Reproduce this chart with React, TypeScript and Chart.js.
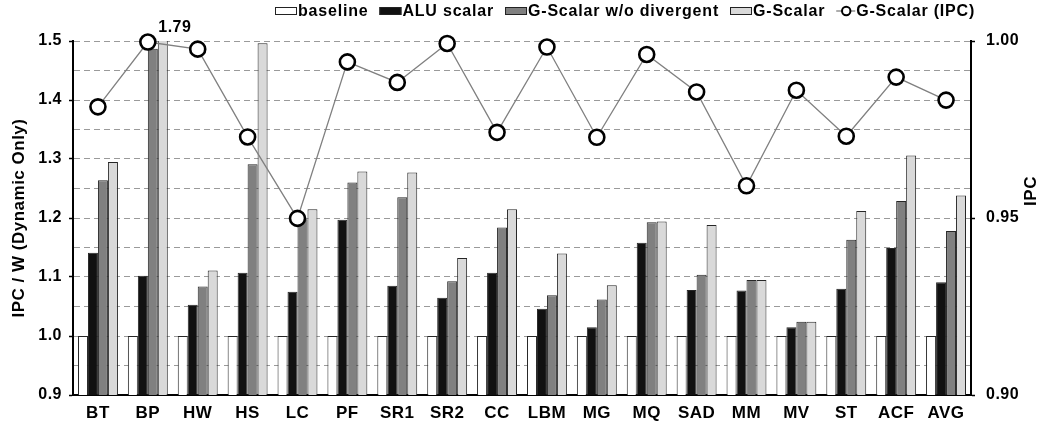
import React, { useEffect, useRef } from "react";
import { Chart, registerables } from "chart.js";

Chart.register(...registerables);

const categories = ["BT", "BP", "HW", "HS", "LC", "PF", "SR1", "SR2", "CC", "LBM", "MG", "MQ", "SAD", "MM", "MV", "ST", "ACF", "AVG"];
const baseline = [1, 1, 1, 1, 1, 1, 1, 1, 1, 1, 1, 1, 1, 1, 1, 1, 1, 1];
const aluScalar = [1.141, 1.102, 1.053, 1.107, 1.075, 1.197, 1.085, 1.065, 1.107, 1.046, 1.015, 1.158, 1.078, 1.077, 1.015, 1.080, 1.149, 1.091];
const gScalarNoDiv = [1.264, 1.487, 1.084, 1.291, 1.198, 1.260, 1.235, 1.093, 1.184, 1.069, 1.062, 1.193, 1.104, 1.095, 1.024, 1.163, 1.229, 1.178];
const gScalar = [1.295, 1.79, 1.111, 1.496, 1.215, 1.279, 1.277, 1.132, 1.215, 1.140, 1.086, 1.194, 1.188, 1.095, 1.024, 1.212, 1.306, 1.238];
const gScalarIPC = [0.9814, 0.9997, 0.9977, 0.9729, 0.9499, 0.9941, 0.9883, 0.9993, 0.9742, 0.9983, 0.9728, 0.9962, 0.9856, 0.9591, 0.9861, 0.9731, 0.9898, 0.9833];

const leftTitle = "IPC / W (Dynamic Only)";
const rightTitle = "IPC";

const FONT = "'Liberation Sans', Arial, sans-serif";
const SPACING = "0.5px";
const LEGEND_SPACING = "0.8px";

const spacingPlugin = {
  id: "spacing",
  beforeUpdate(chart: any) {
    chart.ctx.letterSpacing = SPACING;
  },
  beforeLayout(chart: any) {
    chart.ctx.letterSpacing = SPACING;
  },
  beforeDraw(chart: any) {
    chart.ctx.letterSpacing = SPACING;
  },
};

const extrasPlugin = {
  id: "extras",
  afterDraw(chart: any) {
    const ctx = chart.ctx;
    const area = chart.chartArea;
    ctx.save();
    ctx.letterSpacing = SPACING;
    ctx.fillStyle = "#000";
    ctx.font = `bold 17px ${FONT}`;
    ctx.textBaseline = "middle";

    // right axis title, reading bottom to top
    const y2 = chart.scales.y2;
    ctx.save();
    ctx.translate(y2.right - 11, (area.top + area.bottom) / 2 - 27);
    ctx.rotate(-Math.PI / 2);
    ctx.textAlign = "center";
    ctx.fillText(rightTitle, 0, 0);
    ctx.restore();

    // value label for clipped bars
    ctx.font = `bold 16px ${FONT}`;
    const yScale = chart.scales.y;
    chart.data.datasets.forEach((ds: any, di: number) => {
      if (ds.type === "line") return;
      const meta = chart.getDatasetMeta(di);
      ds.data.forEach((v: number, i: number) => {
        if (v > yScale.max) {
          const el = meta.data[i];
          ctx.textAlign = "center";
          ctx.fillText(v.toFixed(2), el.x + 12, area.top - 13);
        }
      });
    });

    // legend
    ctx.letterSpacing = LEGEND_SPACING;
    ctx.font = `bold 16px ${FONT}`;
    let x = 275;
    const cy = 11;
    chart.data.datasets
      .slice()
      .sort((a: any, b: any) => a.legendIndex - b.legendIndex)
      .forEach((ds: any) => {
        if (ds.type === "line") {
          ctx.strokeStyle = ds.borderColor;
          ctx.lineWidth = 1.3;
          ctx.beginPath();
          ctx.moveTo(x, cy);
          ctx.lineTo(x + 19, cy);
          ctx.stroke();
          ctx.beginPath();
          ctx.arc(x + 10, cy, 4.2, 0, Math.PI * 2);
          ctx.fillStyle = ds.pointBackgroundColor;
          ctx.fill();
          ctx.lineWidth = 2;
          ctx.strokeStyle = ds.pointBorderColor;
          ctx.stroke();
          x += 20;
        } else {
          ctx.fillStyle = ds.backgroundColor;
          ctx.fillRect(x, cy - 4, 22, 8);
          ctx.strokeStyle = "#222";
          ctx.lineWidth = 1;
          ctx.strokeRect(x + 0.5, cy - 3.5, 21, 7);
          x += 23;
        }
        ctx.fillStyle = "#000";
        ctx.textAlign = "left";
        ctx.fillText(ds.label, x, cy + 0.5);
        x += ctx.measureText(ds.label).width + 11;
      });
    ctx.restore();
  },
};

export default function App() {
  const ref = useRef<HTMLCanvasElement | null>(null);

  useEffect(() => {
    if (!ref.current) return;
    const barCommon = {
      type: "bar" as const,
      yAxisID: "y",
      borderColor: "#262626",
      borderWidth: 1,
      categoryPercentage: 0.8,
      barPercentage: 1,
      order: 1,
    };
    const chart = new Chart(ref.current, {
      type: "bar",
      data: {
        labels: categories,
        datasets: [
          {
            type: "line",
            label: "G-Scalar (IPC)",
            data: gScalarIPC,
            yAxisID: "y2",
            borderColor: "#808080",
            borderWidth: 1.3,
            pointRadius: 7.5,
            pointBorderWidth: 2.6,
            pointBackgroundColor: "#ffffff",
            pointBorderColor: "#000000",
            clip: false,
            order: 0,
            legendIndex: 4,
          } as any,
          { ...barCommon, label: "baseline", data: baseline, backgroundColor: "#ffffff", legendIndex: 0 } as any,
          { ...barCommon, label: "ALU scalar", data: aluScalar, backgroundColor: "#111111", legendIndex: 1 } as any,
          { ...barCommon, label: "G-Scalar w/o divergent", data: gScalarNoDiv, backgroundColor: "#808080", legendIndex: 2 } as any,
          { ...barCommon, label: "G-Scalar", data: gScalar, backgroundColor: "#d9d9d9", legendIndex: 3 } as any,
        ],
      },
      options: {
        animation: false,
        responsive: false,
        devicePixelRatio: 1,
        layout: { padding: { top: 41, left: 0, right: 0, bottom: 0 } },
        plugins: {
          legend: { display: false },
          tooltip: { enabled: false },
        },
        scales: {
          x: {
            type: "category",
            grid: { display: false, drawTicks: false },
            border: { display: true, color: "#000", width: 2 },
            ticks: {
              color: "#000",
              font: { family: FONT, size: 17, weight: "bold" },
              padding: 8,
            },
            afterFit: (s: any) => {
              s.height = 32;
            },
          },
          y: {
            position: "left",
            min: 0.9,
            max: 1.5,
            ticks: {
              stepSize: 0.05,
              color: "#000",
              font: { family: FONT, size: 16, weight: "bold" },
              padding: 7,
              callback: (v: any, i: number) => (i % 2 === 0 ? Number(v).toFixed(1) : ""),
            },
            grid: {
              color: "#9a9a9a",
              lineWidth: 1,
              tickLength: 4,
              tickWidth: 1.5,
              tickColor: (c: any) => (c.index % 2 === 0 ? "#000" : "rgba(0,0,0,0)"),
              tickBorderDash: [],
            },
            border: { display: true, color: "#000", width: 2, dash: [6, 4] },
            title: {
              display: true,
              text: leftTitle,
              color: "#000",
              font: { family: FONT, size: 17, weight: "bold" },
              padding: { top: 9, bottom: 0 },
            },
            afterFit: (s: any) => {
              s.width = 73;
            },
          },
          y2: {
            position: "right",
            min: 0.9,
            max: 1.0,
            ticks: {
              stepSize: 0.05,
              color: "#000",
              font: { family: FONT, size: 16, weight: "bold" },
              padding: 11,
              callback: (v: any) => Number(v).toFixed(2),
            },
            grid: {
              drawOnChartArea: false,
              tickLength: 4,
              tickWidth: 1.5,
              tickColor: "#000",
            },
            border: { display: true, color: "#000", width: 2 },
            afterFit: (s: any) => {
              s.width = 71;
            },
          },
        },
      } as any,
      plugins: [spacingPlugin, extrasPlugin],
    });
    return () => chart.destroy();
  }, []);

  return (
    <div style={{ position: "fixed", left: 0, top: 0, width: 1042, height: 427, background: "#fff" }}>
      <canvas ref={ref} width={1042} height={427} style={{ display: "block", width: 1042, height: 427 }} />
    </div>
  );
}
